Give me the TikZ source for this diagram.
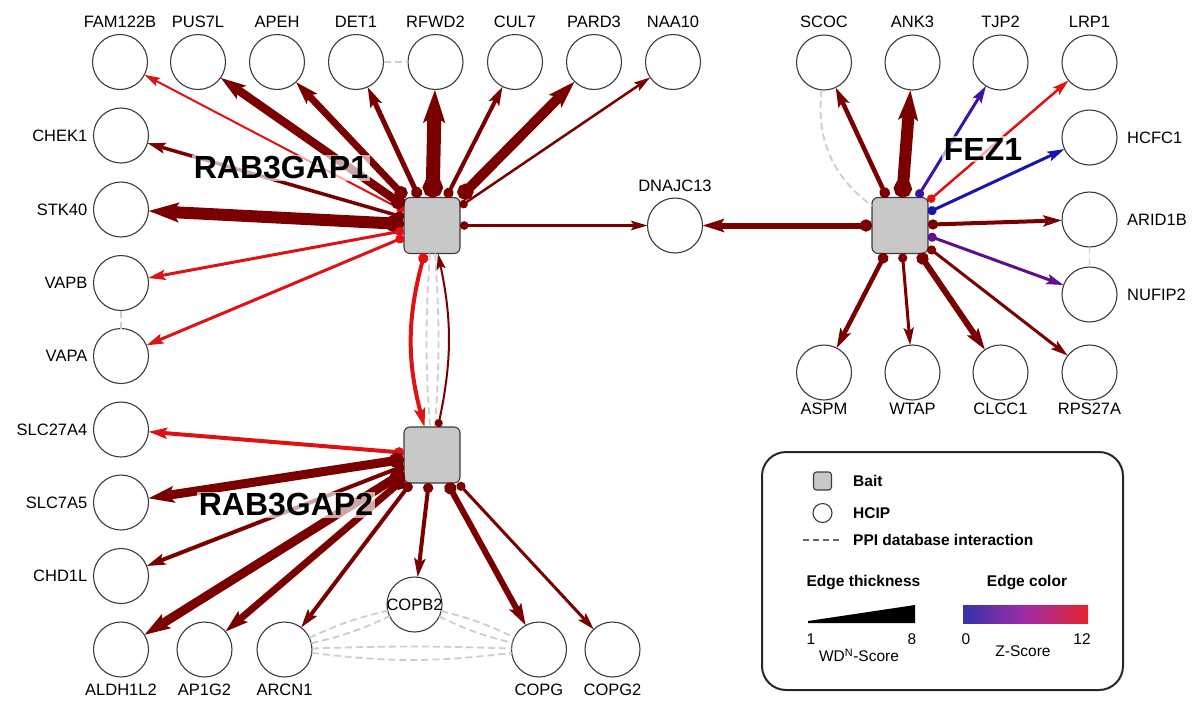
\documentclass[tikz,border=0pt]{standalone}
\usepackage{fontspec}
\setmainfont{Liberation Sans}
\usetikzlibrary{arrows.meta}
\definecolor{dred}{RGB}{122,0,0}
\definecolor{bred}{RGB}{222,18,18}
\definecolor{eblue}{RGB}{25,20,175}
\definecolor{eviol}{RGB}{60,20,165}
\definecolor{epurp}{RGB}{95,15,140}
\definecolor{ppigray}{RGB}{205,205,205}
\definecolor{nodeborder}{RGB}{60,60,60}
\definecolor{baitfill}{RGB}{200,200,200}
\definecolor{gblue}{RGB}{55,50,170}
\definecolor{gmid}{RGB}{160,45,165}
\definecolor{gred}{RGB}{228,35,45}
\begin{document}
\begin{tikzpicture}[x=1pt,y=-1pt,
  hcip/.style={circle, draw=nodeborder, line width=1.1pt, fill=white, minimum size=55pt, inner sep=0pt, outer sep=0pt},
  bait/.style={rectangle, rounded corners=6pt, draw=nodeborder, line width=1.1pt, fill=baitfill, minimum size=56pt, inner sep=0pt, outer sep=0pt},
  lbl/.style={font=\fontsize{16.5}{18}\selectfont, inner sep=0pt},
  labT/.style={label={[lbl,label distance=7pt]above:#1}},
  labB/.style={label={[lbl,label distance=7pt]below:#1}},
  labBs/.style={label={[lbl,label distance=2.5pt]below:#1}},
  labL/.style={label={[lbl,label distance=6pt]left:#1}},
  labR/.style={label={[lbl,label distance=10pt]right:#1}},
  baitlbl/.style={font=\fontsize{32}{36}\selectfont\bfseries, fill=white, fill opacity=0.65, text opacity=1, inner xsep=2pt, inner ysep=2pt},
  ed/.style={line width=#1pt, {Circle[length=6pt 1]}-{Stealth[length=13pt 1.4,width=7pt 1,inset=2.5pt 0.25]}},
  ppi/.style={draw=ppigray, line width=1.8pt, dash pattern=on 7pt off 4pt},
  leg/.style={font=\fontsize{15.5}{17}\selectfont, inner sep=0pt},
  legb/.style={font=\fontsize{15.5}{17}\selectfont\bfseries, inner sep=0pt}
]
\useasboundingbox (0,0) rectangle (1195,702);
\fill[white] (0,0) rectangle (1195,702);

% baits
\node[bait] (r1) at (432,225.5) {};
\node[bait] (r2) at (432,455) {};
\node[bait] (fez) at (900,225.5) {};

% RAB3GAP1 top row
\node[hcip, labT=FAM122B] (fam) at (120,62) {};
\node[hcip, labT=PUS7L] (pus) at (198,62) {};
\node[hcip, labT=APEH] (apeh) at (277,62) {};
\node[hcip, labT=DET1] (det) at (356,62) {};
\node[hcip, labT=RFWD2] (rfwd) at (435.5,62) {};
\node[hcip, labT=CUL7] (cul) at (515,62) {};
\node[hcip, labT=PARD3] (pard) at (594,62) {};
\node[hcip, labT=NAA10] (naa) at (673,62) {};
% left column
\node[hcip, labL=CHEK1] (chek) at (121,135.5) {};
\node[hcip, labL=STK40] (stk) at (121,209.5) {};
\node[hcip, labL=VAPB] (vapb) at (121,283) {};
\node[hcip, labL=VAPA] (vapa) at (121,356) {};
\node[hcip, labL=SLC27A4] (slc27) at (121,429.5) {};
\node[hcip, labL=SLC7A5] (slc7) at (121,502.5) {};
\node[hcip, labL=CHD1L] (chd) at (121,576) {};
% bottom row
\node[hcip, labB=ALDH1L2] (aldh) at (121,649.5) {};
\node[hcip, labB=AP1G2] (ap1g2) at (204.5,649.5) {};
\node[hcip, labB=ARCN1] (arcn) at (284.5,649.5) {};
\node[hcip, label={[lbl]center:COPB2}] (copb2) at (414.5,604.5) {};
\node[hcip, labB=COPG] (copg) at (539,649.5) {};
\node[hcip, labB=COPG2] (copg2) at (612.5,649.5) {};
% middle
\node[hcip, label={[lbl,label distance=6pt]above:DNAJC13}] (dnaj) at (675,225.5) {};
% FEZ1 preys
\node[hcip, labT=SCOC] (scoc) at (824,62.5) {};
\node[hcip, labT=ANK3] (ank3) at (912.5,62.5) {};
\node[hcip, labT=TJP2] (tjp2) at (1000.5,62.5) {};
\node[hcip, labT=LRP1] (lrp1) at (1089.5,62.5) {};
\node[hcip, labR=HCFC1] (hcfc) at (1089.5,137.5) {};
\node[hcip, labR=ARID1B] (arid) at (1089.5,219.5) {};
\node[hcip, labR=NUFIP2] (nufip) at (1089.5,294.5) {};
\node[hcip, labBs=ASPM] (aspm) at (824,372.5) {};
\node[hcip, labBs=WTAP] (wtap) at (912.5,372.5) {};
\node[hcip, labBs=CLCC1] (clcc) at (1000.5,372.5) {};
\node[hcip, labBs=RPS27A] (rps) at (1089.5,372.5) {};

% PPI database interactions
\draw[ppi] (det) -- (rfwd);
\draw[ppi] (vapb) -- (vapa);
\draw[ppi] (arid) -- (nufip);
\draw[ppi] (scoc) to[bend right=30] (fez);
\draw[ppi] ([xshift=-2pt]r1.south) to[bend right=4] ([xshift=-2pt]r2.north);
\draw[ppi] ([xshift=3pt]r1.south) to[bend left=4] ([xshift=3pt]r2.north);
\draw[ppi] (arcn) to[bend left=6] (copb2);
\draw[ppi] (arcn) to[bend right=6] (copb2);
\draw[ppi] (copb2) to[bend left=6] (copg);
\draw[ppi] (copb2) to[bend right=6] (copg);
\draw[ppi] (arcn) to[bend left=2] (copg);
\draw[ppi] (arcn) to[bend right=7] (copg);

% RAB3GAP1 edges
\draw[ed=2, bred] (r1) -- (fam);
\draw[ed=8.5, dred] (r1) -- (pus);
\draw[ed=7, dred] (r1) -- (apeh);
\draw[ed=5, dred] (r1) -- (det);
\draw[ed=14, dred] (r1) -- (rfwd);
\draw[ed=4, dred] (r1) -- (cul);
\draw[ed=10, dred] (r1) -- (pard);
\draw[ed=2.5, dred] (r1) -- (naa);
\draw[ed=3.5, dred] (r1) -- (chek);
\draw[ed=12, dred] (r1) -- (stk);
\draw[ed=3, bred] (r1) -- (vapb);
\draw[ed=3, bred] (r1) -- (vapa);
\draw[ed=2.5, dred] (r1) -- (dnaj);
\draw[ed=4, bred] (r1) to[bend right=15] (r2);
\draw[ed=2, dred] (r2) to[bend right=12] (r1);

% RAB3GAP2 edges
\draw[ed=4, bred] (r2) -- (slc27);
\draw[ed=9, dred] (r2) -- (slc7);
\draw[ed=4, dred] (r2) -- (chd);
\draw[ed=9, dred] (r2) -- (aldh);
\draw[ed=7, dred] (r2) -- (ap1g2);
\draw[ed=4, dred] (r2) -- (arcn);
\draw[ed=4, dred] (r2) -- (copb2);
\draw[ed=6, dred] (r2) -- (copg);
\draw[ed=3, dred] (r2) -- (copg2);

% FEZ1 edges
\draw[ed=6, dred] (fez) -- (dnaj);
\draw[ed=4.5, dred] (fez) -- (scoc);
\draw[ed=12, dred] (fez) -- (ank3);
\draw[ed=3, eviol] (fez) -- (tjp2);
\draw[ed=2.5, bred] (fez) -- (lrp1);
\draw[ed=3, eblue] (fez) -- (hcfc);
\draw[ed=4, dred] (fez) -- (arid);
\draw[ed=3, epurp] (fez) -- (nufip);
\draw[ed=4.5, dred] (fez) -- (aspm);
\draw[ed=3, dred] (fez) -- (wtap);
\draw[ed=6, dred] (fez) -- (clcc);
\draw[ed=3, dred] (fez) -- (rps);

% bait labels
\node[baitlbl] (r1lbl) at (281,168) {RAB3GAP1};
\node[baitlbl] (r2lbl) at (286,505) {RAB3GAP2};
\node[baitlbl] (fezlbl) at (983,149) {FEZ1};

% legend
\draw[line width=2pt, draw=black!85, rounded corners=24pt] (762,452) rectangle (1123,690);
\node[bait, minimum size=18pt, rounded corners=3pt] (legbait) at (822.5,481) {};
\node[legb, anchor=west] (legbaitt) at (853,481) {Bait};
\node[hcip, minimum size=19pt] (leghcip) at (822.5,513) {};
\node[legb, anchor=west] (leghcipt) at (853,513) {HCIP};
\coordinate (ppia) at (803,540);
\coordinate (ppib) at (841,540);
\draw[draw=black!60, line width=1.8pt, dash pattern=on 6pt off 4pt] (ppia) -- (ppib);
\node[legb, anchor=west] (legppi) at (853,540) {PPI database interaction};
\node[legb] (legthick) at (863.5,583) {Edge thickness};
\node[legb] (legcol) at (1027,583) {Edge color};
\fill[black] (808,621) -- (915,605) -- (915,623) -- (808,623) -- cycle;
\shade[left color=gblue, right color=gred, middle color=gmid] (963,605) rectangle (1088,623);
\node[leg] (n1) at (811,639) {1};
\node[leg] (n8) at (912,639) {8};
\node[leg] (n0) at (966,639) {0};
\node[leg] (n12) at (1082,639) {12};
\node[leg] (wdn) at (859,655) {WD\textsuperscript{N}-Score};
\node[leg] (zsc) at (1023,651) {Z-Score};
\end{tikzpicture}
\end{document}
